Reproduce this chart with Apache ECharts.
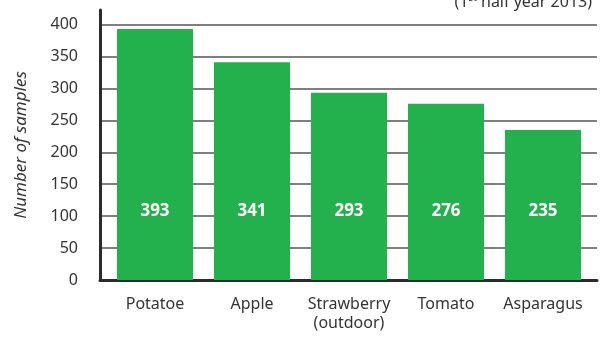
<!DOCTYPE html>
<html><head><meta charset="utf-8">
<script src="https://cdn.jsdelivr.net/npm/echarts@6/dist/echarts.min.js"></script>
<style>html,body{margin:0;padding:0;background:#fff}#c{width:604px;height:338px}</style>
</head><body><div id="c"></div>
<script>
const categories = ['Potatoe', 'Apple', 'Strawberry\n(outdoor)', 'Tomato', 'Asparagus'];
const samples = [393, 341, 293, 276, 235];
const yTicks = [0, 50, 100, 150, 200, 250, 300, 350, 400];
const yTitle = 'Number of samples';

const FONT = 'Noto Sans';
const TOP = 10, BOTTOM = 58;
const yMax = 400 * (280 - TOP) / (280 - 24.5);

const chart = echarts.init(document.getElementById('c'));
chart.setOption({
  animation: false,
  textStyle: { fontFamily: FONT },
  title: {
    text: '{a|(1}{s|st}{a| half year 2013)}',
    right: 7, top: -12,
    textStyle: { fontWeight: 'normal', rich: {
      a: { fontFamily: FONT, fontSize: 16, color: '#333', fontWeight: 'normal' },
      s: { fontFamily: FONT, fontSize: 10, color: '#333', fontWeight: 'normal', verticalAlign: 'top', padding: [0,0,8,0] }
    } }
  },
  grid: [
    { left: 106.5, width: 485, top: TOP, bottom: BOTTOM },
    { left: 100, right: 7, top: TOP, bottom: BOTTOM }
  ],
  xAxis: [
    { type: 'category', gridIndex: 0, data: categories,
      axisLine: { show: false }, axisTick: { show: false },
      axisLabel: { interval: 0, hideOverlap: false, color: '#333', fontSize: 16, margin: 15, lineHeight: 19, fontFamily: FONT } },
    { type: 'value', gridIndex: 1, min: 0, max: 1,
      axisLine: { show: true, onZero: false, lineStyle: { color: '#2b2b2b', width: 3 } },
      axisTick: { show: false }, axisLabel: { show: false }, splitLine: { show: false } }
  ],
  yAxis: [
    { type: 'value', gridIndex: 0, min: 0, max: yMax, show: false, splitLine: { show: false } },
    { type: 'value', gridIndex: 1, min: 0, max: yMax, interval: 50,
      name: yTitle, nameLocation: 'middle', nameGap: 70, nameRotate: 90,
      nameTextStyle: { fontStyle: 'italic', fontSize: 17, color: '#333', fontFamily: FONT },
      axisLine: { show: true, lineStyle: { color: '#2b2b2b', width: 3 } },
      axisTick: { show: false },
      axisLabel: { color: '#333', fontSize: 16, margin: 22, showMaxLabel: false, fontFamily: FONT,
        formatter: v => yTicks.includes(v) ? String(v) : '' },
      splitLine: { show: true, showMaxLine: false, lineStyle: { color: '#555', width: 1.5 } } }
  ],
  series: [{
    type: 'bar', xAxisIndex: 0, yAxisIndex: 0, data: samples,
    barCategoryGap: '21.6%',
    itemStyle: { color: '#23b14d' },
    label: { show: true, position: 'insideBottom', distance: 60, color: '#fff',
      fontWeight: 'bold', fontSize: 17, fontFamily: FONT }
  }]
});
</script></body></html>
